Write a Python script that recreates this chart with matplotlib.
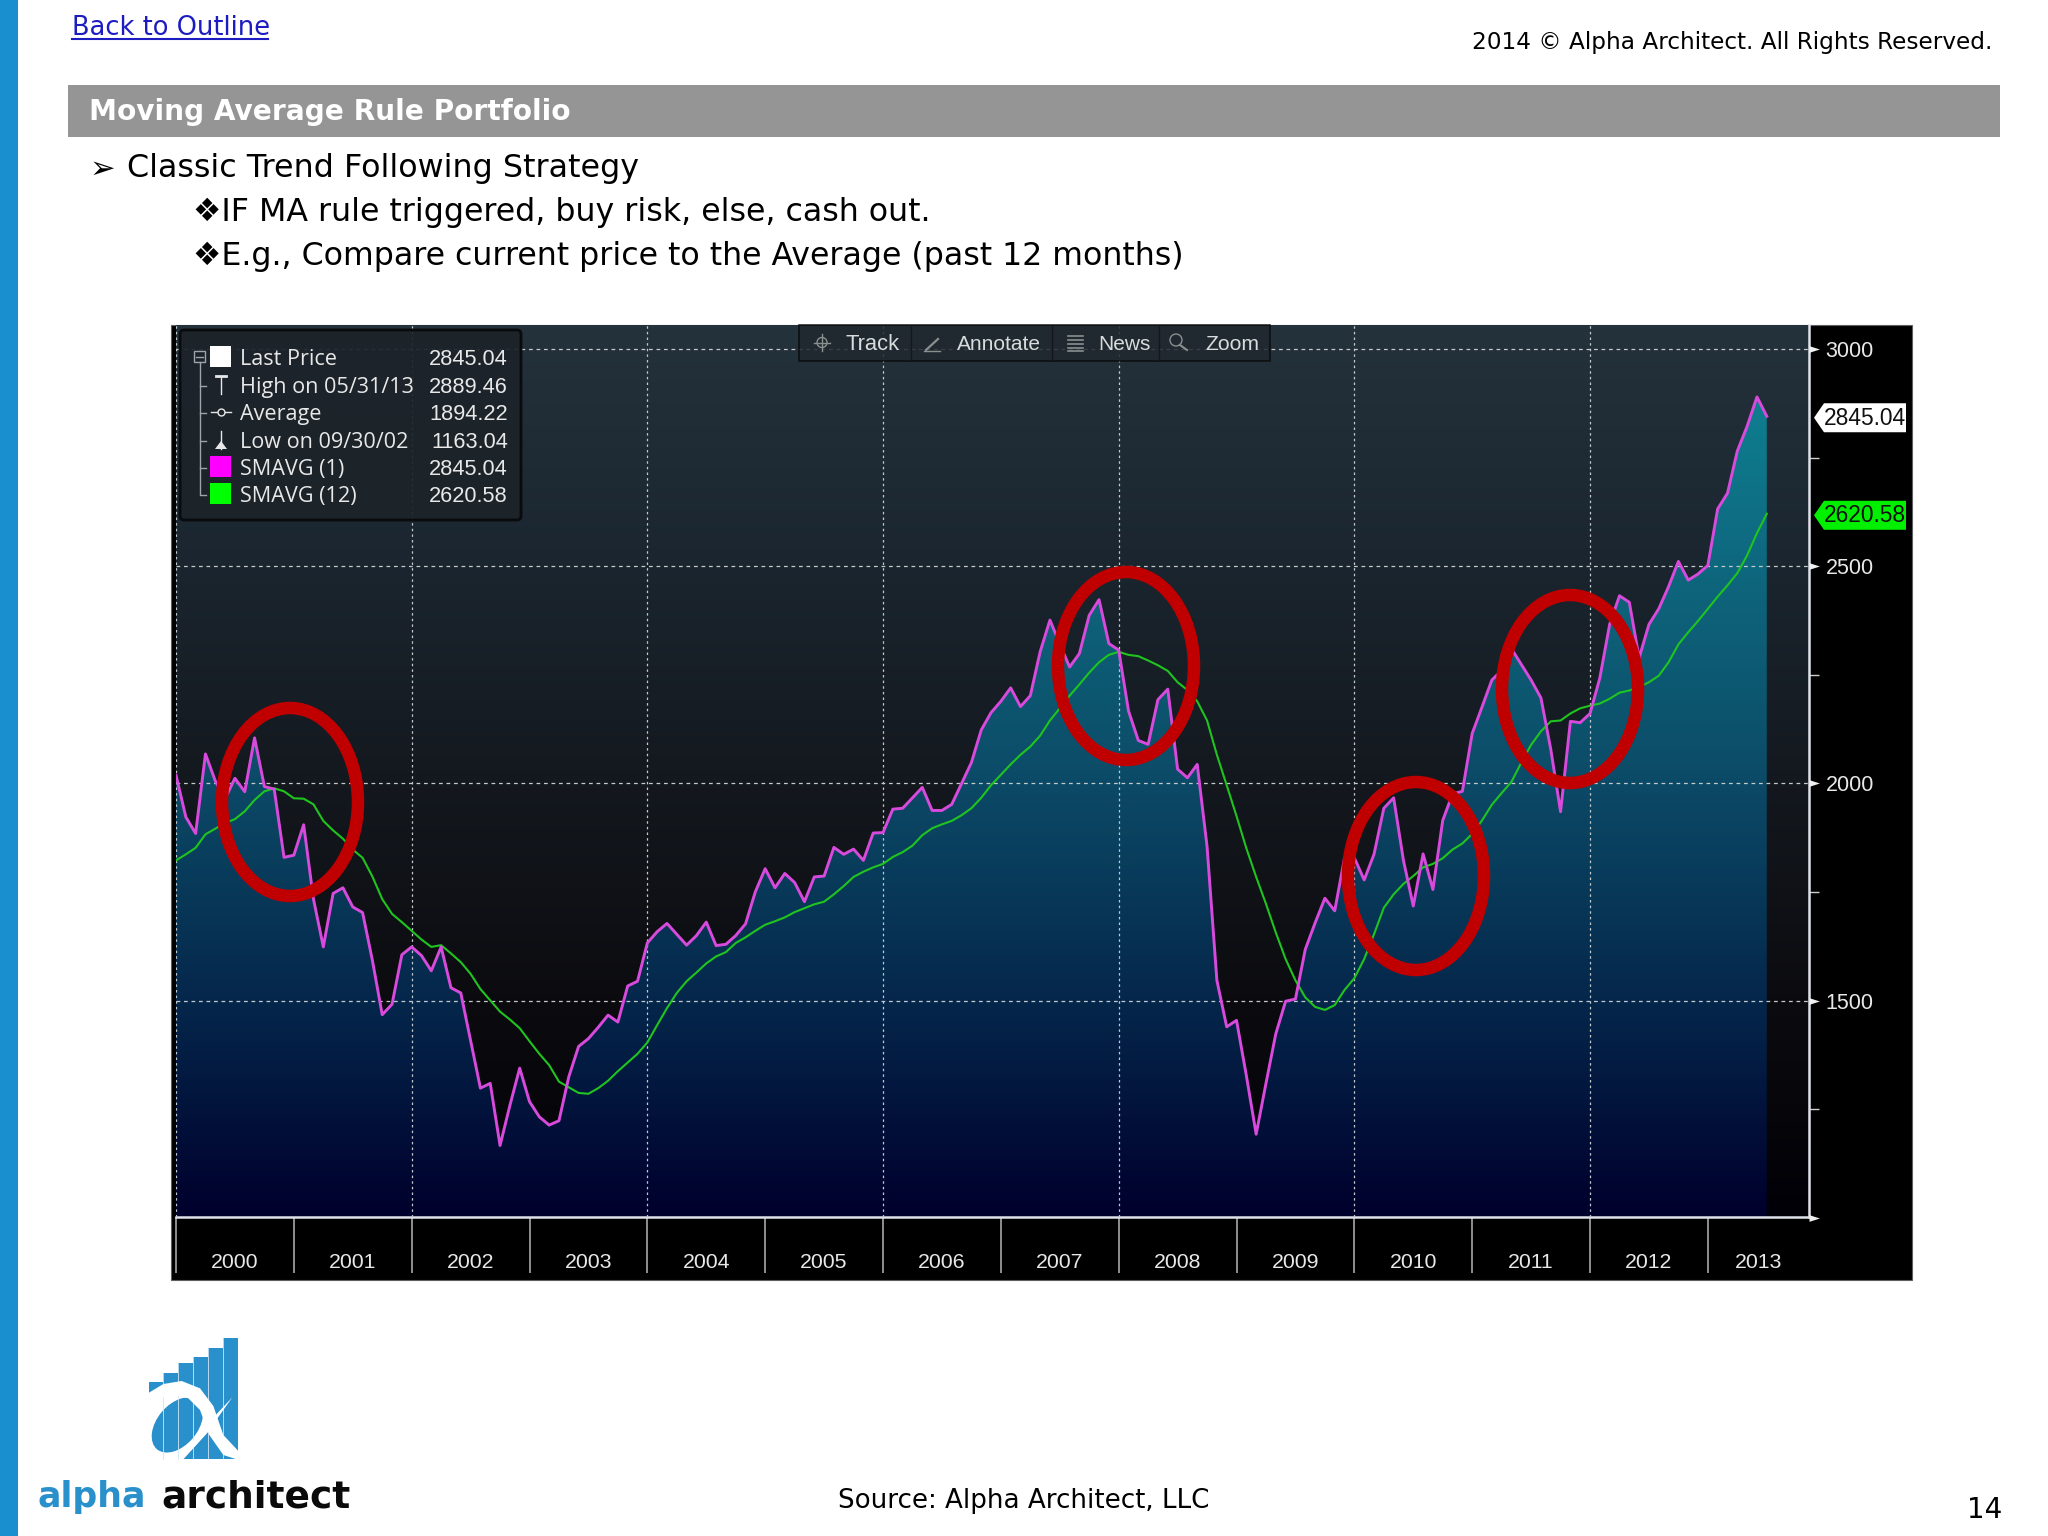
import numpy as np
import matplotlib
matplotlib.use("Agg")
import matplotlib.pyplot as plt
from matplotlib.colors import LinearSegmentedColormap
from matplotlib.patches import Ellipse, Polygon, Rectangle, FancyBboxPatch

# monthly values, Jan 2000 - Jun 2013
price = [2019, 1923, 1885, 2068, 2006, 1965, 2012, 1981, 2105, 1993, 1987, 1830,
         1835, 1905, 1734, 1624, 1747, 1760, 1716, 1703, 1593, 1468, 1492, 1606,
         1624, 1604, 1569, 1624, 1530, 1518, 1409, 1299, 1310, 1167, 1259, 1345,
         1268, 1233, 1214, 1224, 1325, 1395, 1413, 1439, 1467, 1451, 1534, 1545,
         1633, 1659, 1678, 1653, 1628, 1650, 1681, 1627, 1630, 1650, 1677, 1751,
         1804, 1760, 1793, 1772, 1728, 1785, 1787, 1853, 1837, 1849, 1823, 1886,
         1887, 1941, 1943, 1967, 1991, 1938, 1938, 1952, 2000, 2048, 2123, 2163,
         2189, 2220, 2177, 2202, 2303, 2376, 2321, 2268, 2299, 2387, 2423, 2322,
         2307, 2167, 2099, 2090, 2193, 2217, 2033, 2013, 2044, 1855, 1547, 1440,
         1455, 1328, 1193, 1310, 1424, 1499, 1504, 1618, 1679, 1736, 1707, 1829,
         1829, 1778, 1837, 1943, 1967, 1823, 1718, 1838, 1756, 1915, 1976, 1982,
         2115, 2176, 2238, 2260, 2310, 2274, 2238, 2197, 2079, 1935, 2143, 2140,
         2161, 2243, 2366, 2432, 2417, 2289, 2366, 2402, 2453, 2511, 2468, 2482,
         2502, 2632, 2668, 2765, 2822, 2889.46, 2845.04]
smavg12 = [1823, 1837, 1852, 1883, 1896, 1909, 1918, 1936, 1962, 1982, 1989, 1982,
           1966, 1965, 1952, 1914, 1892, 1873, 1848, 1829, 1786, 1734, 1700, 1681,
           1661, 1641, 1624, 1628, 1609, 1589, 1562, 1527, 1501, 1475, 1457, 1437,
           1407, 1378, 1352, 1314, 1301, 1288, 1286, 1299, 1316, 1338, 1358, 1378,
           1404, 1444, 1483, 1518, 1545, 1565, 1586, 1602, 1612, 1633, 1646, 1661,
           1675, 1683, 1692, 1704, 1713, 1722, 1728, 1745, 1764, 1785, 1797, 1807,
           1815, 1831, 1842, 1857, 1881, 1897, 1906, 1914, 1927, 1943, 1967, 1996,
           2020, 2044, 2066, 2085, 2110, 2145, 2173, 2202, 2228, 2255, 2279, 2296,
           2303, 2296, 2293, 2283, 2272, 2259, 2233, 2215, 2189, 2145, 2066, 1996,
           1925, 1851, 1785, 1723, 1657, 1596, 1547, 1508, 1486, 1479, 1490, 1525,
           1552, 1596, 1653, 1714, 1745, 1769, 1787, 1807, 1815, 1828, 1848, 1862,
           1884, 1915, 1951, 1978, 2004, 2048, 2089, 2120, 2143, 2145, 2161, 2173,
           2179, 2184, 2195, 2209, 2214, 2222, 2233, 2248, 2279, 2320, 2348, 2374,
           2402, 2430, 2456, 2484, 2525, 2576, 2620.58]
years = [2000, 2001, 2002, 2003, 2004, 2005, 2006, 2007, 2008, 2009, 2010, 2011, 2012, 2013]
y_major = [1000, 1500, 2000, 2500, 3000]
y_minor = [1250, 1750, 2250, 2750]

legend_labels = ["Last Price", "High on 05/31/13", "Average", "Low on 09/30/02", "SMAVG (1)", "SMAVG (12)"]
legend_values = ["2845.04", "2889.46", "1894.22", "1163.04", "2845.04", "2620.58"]
tools = ["Track", "Annotate", "News", "Zoom"]

W, H = 2048, 1536
CHART_FONT = "Liberation Sans"
BLUE = "#1a8fd0"
LOGO_BLUE = "#2a90cc"
Y_LOW, Y_HIGH = 1002.5, 3055
X_END = 166.3

plt.rcParams["font.family"] = ["DejaVu Sans"]
fig = plt.figure(figsize=(W / 100, H / 100), dpi=100, facecolor="white")

# slide layer, in pixel coords
slide = fig.add_axes([0, 0, 1, 1], zorder=0)
slide.set_xlim(0, W)
slide.set_ylim(H, 0)
slide.axis("off")

slide.add_patch(Rectangle((0, 0), 18, H, color=BLUE, lw=0))
slide.add_patch(Rectangle((68, 85), 1932, 52, color="#959595", lw=0))
slide.add_patch(Rectangle((171, 325), 1741, 955, fc="black", ec="#606060", lw=0.8))

slide.text(72, 28, "Back to Outline", fontsize=18.5, color="#1c1cc0", va="center")
slide.plot([72, 268], [39, 39], color="#1c1cc0", lw=1.5)
slide.text(1992, 42, "2014 © Alpha Architect. All Rights Reserved.", fontsize=16.65, ha="right", va="center")
slide.text(89, 112, "Moving Average Rule Portfolio", fontsize=20.2, fontweight="bold", color="white", va="center")
slide.text(90, 169, "➢", fontsize=22, va="center")
slide.text(127, 169, "Classic Trend Following Strategy", fontsize=22.85, va="center")
slide.text(193, 212, "❖IF MA rule triggered, buy risk, else, cash out.", fontsize=22.8, va="center")
slide.text(193, 256.5, "❖E.g., Compare current price to the Average (past 12 months)", fontsize=22.8, va="center")
slide.text(838, 1501, "Source: Alpha Architect, LLC", fontsize=18.85, va="center")
slide.text(2002, 1510, "14", fontsize=20, ha="right", va="center")

# logo, coordinates taken from a 3x crop
def lg(u, v):
    return u / 3, 1320 + v / 3

bar_edges = [447, 490, 535, 580, 625, 670, 714]
bar_tops = [185, 160, 130, 112, 85, 55]
for i in range(6):
    x0, y0 = lg(bar_edges[i], bar_tops[i])
    x1, y1 = lg(bar_edges[i + 1], 418)
    slide.add_patch(Rectangle((x0, y0), x1 - x0, y1 - y0, color=LOGO_BLUE, lw=0, zorder=2))
# white area around the alpha bowl, then the bowl itself
slide.add_patch(Polygon([lg(*p) for p in [(440, 222), (600, 222), (625, 335), (548, 420), (440, 425)]],
                        color="white", lw=0, zorder=3))
slide.add_patch(Ellipse(lg(532, 315), 190 / 3, 122 / 3, angle=-50, color=LOGO_BLUE, lw=0, zorder=3.5))
for i, u in enumerate(bar_edges[1:-1]):
    slide.plot([u / 3, u / 3], [1320 + bar_tops[i + 1] / 3, 1320 + 418 / 3], color="#cfe6f4", lw=0.6, zorder=3.7)
# alpha strokes
slide.add_patch(Polygon([lg(*p) for p in [(447, 218), (490, 192), (545, 183), (600, 205), (640, 258),
                                          (670, 345), (714, 392), (716, 420), (670, 405), (628, 345),
                                          (600, 270), (565, 235), (520, 224), (480, 236), (447, 226)]],
                        color="white", lw=0, zorder=4))
slide.add_patch(Polygon([lg(*p) for p in [(546, 420), (620, 340), (697, 232), (650, 282), (590, 345)]],
                        color="white", lw=0, zorder=4))
slide.text(*lg(112, 562), "alpha", fontsize=25, fontweight="bold", color=LOGO_BLUE, va="baseline")
slide.text(*lg(485, 562), "architect", fontsize=27, fontweight="bold", color="#0a0a0a", va="baseline")

# chart
ax = fig.add_axes([176 / W, 1 - 1217 / H, (1809 - 176) / W, (1217 - 325) / H], zorder=1)
months = np.arange(len(price))
ax.set_facecolor("black")

bg_cmap = LinearSegmentedColormap.from_list("bg", ["#000006", "#0c0c10", "#14191f", "#1b2630", "#24323b"])
fill_cmap = LinearSegmentedColormap.from_list("fill", ["#00002c", "#05284c", "#0c4c68", "#0e6a80", "#108898"])
grad = np.linspace(1, 0, 256).reshape(-1, 1)
ext = [0, X_END, Y_LOW, Y_HIGH]
ax.imshow(grad, cmap=bg_cmap, extent=ext, aspect="auto", zorder=1)
area = ax.fill_between(months, price, Y_LOW, color="none", lw=0)
im = ax.imshow(grad, cmap=fill_cmap, extent=ext, aspect="auto", zorder=2)
im.set_clip_path(area.get_paths()[0], transform=ax.transData)

for y in y_major[1:]:
    ax.axhline(y, color="#c4cacc", lw=0.9, ls=(0, (3, 3)), zorder=3)
for yr in years[::2]:
    ax.axvline((yr - 2000) * 12, color="#c4cacc", lw=0.9, ls=(0, (2, 2.5)), zorder=3)

ax.plot(months, price, color="#d84adc", lw=2.1, zorder=5)
ax.plot(months, smavg12, color="#1fc41f", lw=1.5, zorder=4)

for s in ["top", "left"]:
    ax.spines[s].set_visible(False)
for s in ["bottom", "right"]:
    ax.spines[s].set_color("#e0e2ea")
    ax.spines[s].set_linewidth(1.8)

year_ticks = [(yr - 2000) * 12 for yr in years]
ax.set_xticks(year_ticks)
ax.set_xticklabels([])
ax.tick_params(axis="x", which="major", length=40, width=1.2, color="#a8a8a8", direction="out")
mids = [(a + b) / 2 for a, b in zip(year_ticks, year_ticks[1:] + [X_END])]
ax.set_xticks(mids, minor=True)
ax.set_xticklabels([str(y) for y in years], minor=True, fontsize=15.3, color="#e8e8e8", family=CHART_FONT)
ax.tick_params(axis="x", which="minor", length=0, pad=26)

ax.yaxis.tick_right()
ax.set_yticks(y_major[1:])
ax.set_yticklabels([str(y) for y in y_major[1:]], fontsize=15.5, color="#e8e8e8", family=CHART_FONT)
ax.set_yticks(y_minor, minor=True)
ax.tick_params(axis="y", which="major", length=0, pad=12)
ax.tick_params(axis="y", which="minor", length=7.5, width=1, color="#d0d0d0", direction="out")
ax.set_xlim(0, X_END)
ax.set_ylim(Y_LOW, Y_HIGH)
ax.plot([1] * len(y_major), y_major, transform=ax.get_yaxis_transform(), ls="none", clip_on=False,
        marker=[(0, -0.32), (1, 0), (0, 0.32)], ms=15, mfc="#f0f0f0", mec="none", zorder=6)

# overlay: toolbar, legend box, red circles
top = fig.add_axes([0, 0, 1, 1], zorder=2)
top.set_xlim(0, W)
top.set_ylim(H, 0)
top.axis("off")
top.patch.set_alpha(0)

# last value tags on the right, placed from the chart's own y scale
for val, col in [(price[-1], "white"), (smavg12[-1], "#00f000")]:
    py = H - ax.transData.transform((0, val))[1] + 1.5
    top.add_patch(Polygon([(1814, py), (1824, py - 14.5), (1906, py - 14.5), (1906, py + 14.5), (1824, py + 14.5)],
                          color=col, lw=0))
    top.text(1865, py + 0.5, f"{val:.2f}", fontsize=16.4, family=CHART_FONT, color="#101010", va="center", ha="center")

top.add_patch(Rectangle((799, 325), 471, 36, fc="#20282e", ec="#0a0a0a", lw=1.2, alpha=0.85))
tool_x = [845, 957, 1098, 1205]
for x, t, fs in zip(tool_x, tools, [15.8, 15, 15, 15.2]):
    top.text(x, 344, t, fontsize=fs, family=CHART_FONT, color="#d8dcdc", va="center")
for x in [911, 1052, 1159]:
    top.plot([x, x], [326, 360], color="#14181c", lw=1)
# toolbar icons
top.plot([822, 822], [334, 351], color="#8a9090", lw=1)
top.plot([814, 830], [342.5, 342.5], color="#8a9090", lw=1)
top.add_patch(Ellipse((822, 342.5), 10, 10, fc="none", ec="#8a9090", lw=1))
top.plot([926, 938], [350, 339], color="#8a9090", lw=1.6)
top.plot([924, 940], [351, 351], color="#8a9090", lw=1)
for y in [336, 340, 344, 348, 351]:
    top.plot([1068, 1083], [y, y], color="#8a9090", lw=1.2)
top.add_patch(Ellipse((1176, 340), 12, 12, fc="none", ec="#8a9090", lw=1))
top.plot([1180, 1187], [345, 350], color="#8a9090", lw=1.5)

top.add_patch(FancyBboxPatch((180, 330), 341, 190, boxstyle="round,pad=0,rounding_size=4",
                             fc="#1c2329", ec="#08090a", lw=2, alpha=0.93))
rows = [358, 386, 413, 441, 468, 495]
for y, lab, val in zip(rows, legend_labels, legend_values):
    top.text(240, y + 1.5, lab, fontsize=15.6, family="Open Sans", color="#e8e8e8", va="center")
    top.text(508, y + 1.5, val, fontsize=15.7, family=CHART_FONT, color="#e8e8e8", va="center", ha="right")
top.plot([200, 200], [362, 494], color="#a0a4a8", lw=1)
for y in rows[1:]:
    top.plot([200, 206], [y, y], color="#a0a4a8", lw=1)
top.add_patch(Rectangle((194, 351), 11, 11, fc="none", ec="#a0a4a8", lw=1))
top.plot([196, 203], [356.5, 356.5], color="#a0a4a8", lw=1)
for y, c in [(rows[0], "white"), (rows[4], "#ff00ff"), (rows[5], "#00ff00")]:
    top.add_patch(Rectangle((210, y - 12), 21, 21, color=c, lw=0))
top.plot([221, 221], [376, 394], color="#e8e8e8", lw=1)
top.plot([216, 226], [376, 376], color="#e8e8e8", lw=2)
top.plot([211, 231], [412, 412], color="#e8e8e8", lw=1)
top.plot([221], [412], marker="o", ms=5, mfc="#1c2329", mec="#e8e8e8")
top.plot([221, 221], [431, 449], color="#e8e8e8", lw=1)
top.add_patch(Polygon([(215, 449), (227, 449), (221, 441)], color="#e8e8e8", lw=0))

# red hand-drawn circles
circle_x = [290, 1126, 1416, 1570]
circle_y = [802, 666, 876, 689]
for cx, cy in zip(circle_x, circle_y):
    top.add_patch(Ellipse((cx, cy), 136, 188, fc="none", ec="#c00000", lw=9))

fig.savefig("out.png", dpi=100, facecolor="white")
